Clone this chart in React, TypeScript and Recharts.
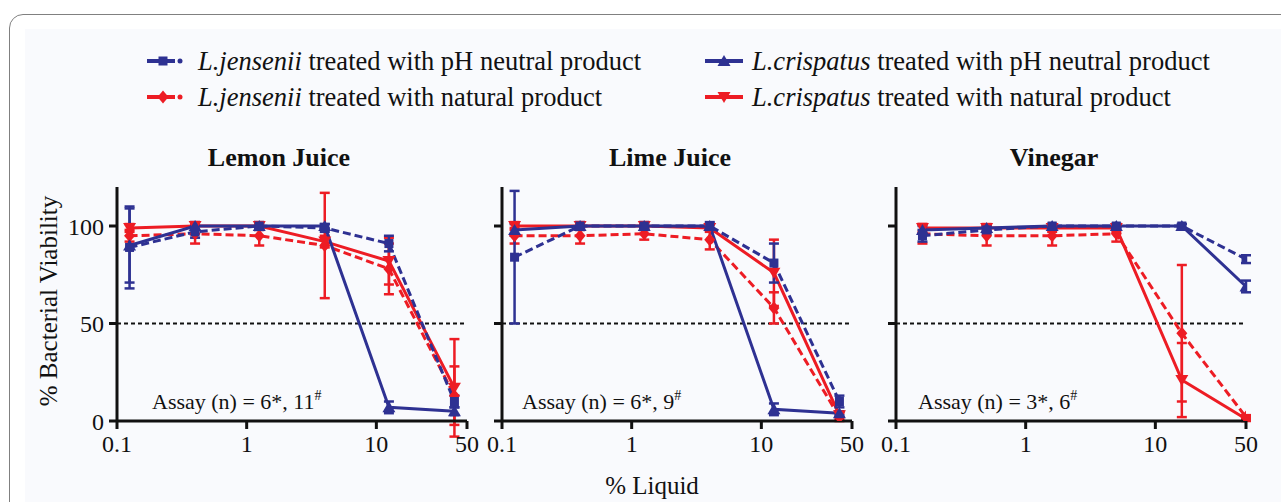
import React from 'react';
import { LineChart, Line, XAxis, YAxis, ErrorBar, ReferenceLine } from 'recharts';

const BLUE = '#2E3192';
const RED = '#ED1C24';
const FONT = '"Liberation Serif", "Times New Roman", serif';

// x concentrations (% liquid)
const xLemon = [0.125, 0.4, 1.25, 4, 12.5, 40];
const xLime = [0.125, 0.4, 1.25, 4, 12.5, 40];
const xVinegar = [0.16, 0.5, 1.6, 5, 16, 50];

const xTicks = [0.1, 1, 10, 50];
const yTicks = [0, 50, 100];

// Lemon juice
const jnLemon = [89, 97, 100, 99, 91, 10];
const jnLemonErr = [21, 3, 2, 2, 4, 3];
const cnLemon = [90, 100, 100, 100, 7, 5];
const cnLemonErr = [19, 2, 1, 1, 3, 2];
const jrLemon = [95, 96, 95, 90, 78, 13];
const jrLemonErr = [3, 5, 5, 27, 13, 15];
const crLemon = [99, 100, 100, 92, 82, 17];
const crLemonErr = [2, 2, 2, 3, 12, 25];

// Lime juice
const jnLime = [84, 100, 100, 100, 81, 10];
const jnLimeErr = [34, 2, 2, 2, 10, 3];
const cnLime = [98, 100, 100, 100, 6, 4];
const cnLimeErr = [3, 1, 1, 1, 3, 1];
const jrLime = [95, 95, 96, 93, 58, 2];
const jrLimeErr = [4, 4, 3, 5, 8, 2];
const crLime = [100, 100, 100, 99, 76, 3];
const crLimeErr = [2, 2, 2, 2, 17, 2];

// Vinegar
const jnVinegar = [95, 98, 100, 100, 100, 83];
const jnVinegarErr = [3, 2, 1, 1, 1, 2];
const cnVinegar = [98, 99, 100, 100, 100, 69];
const cnVinegarErr = [2, 1, 1, 1, 1, 3];
const jrVinegar = [96, 95, 95, 96, 45, 2];
const jrVinegarErr = [5, 5, 5, 4, 35, 1];
const crVinegar = [99, 99, 99, 99, 21, 1];
const crVinegarErr = [2, 2, 2, 2, 19, 1];

const legendLabels = [
  { species: 'L.jensenii', rest: ' treated with pH neutral product' },
  { species: 'L.jensenii', rest: ' treated with natural product' },
  { species: 'L.crispatus', rest: ' treated with pH neutral product' },
  { species: 'L.crispatus', rest: ' treated with natural product' },
];

function Marker({ cx, cy, shape, color }: any) {
  if (cx == null || cy == null || isNaN(cx) || isNaN(cy)) return <g />;
  if (shape === 'square') return <rect x={cx - 4.5} y={cy - 4.5} width={9} height={9} fill={color} />;
  if (shape === 'triangle')
    return <path d={`M${cx},${cy - 6}L${cx + 6.5},${cy + 5}L${cx - 6.5},${cy + 5}Z`} fill={color} />;
  if (shape === 'diamond')
    return <path d={`M${cx},${cy - 6.5}L${cx + 5.5},${cy}L${cx},${cy + 6.5}L${cx - 5.5},${cy}Z`} fill={color} />;
  return <path d={`M${cx - 6.5},${cy - 5}L${cx + 6.5},${cy - 5}L${cx},${cy + 6}Z`} fill={color} />;
}

const SERIES = [
  { key: 'jr', color: RED, dash: '8 4', shape: 'diamond' },
  { key: 'cr', color: RED, dash: undefined, shape: 'invtri' },
  { key: 'jn', color: BLUE, dash: '8 4', shape: 'square' },
  { key: 'cn', color: BLUE, dash: undefined, shape: 'triangle' },
];

function Panel({ left, plotW, xs, vals, showY }: any) {
  const data = xs.map((x: number, i: number) => {
    const row: any = { x };
    for (const k of Object.keys(vals)) row[k] = vals[k][i];
    return row;
  });
  const yW = 75;
  const top = 130;
  return (
    <div style={{ position: 'absolute', left: left - yW, top }}>
      <LineChart
        width={yW + plotW + 25}
        height={331}
        data={data}
        margin={{ top: 57, right: 25, bottom: 0, left: 0 }}
      >
        <XAxis
          dataKey="x"
          type="number"
          scale="log"
          domain={[0.1, 50]}
          ticks={xTicks}
          allowDataOverflow
          height={40}
          axisLine={{ stroke: '#111', strokeWidth: 3 }}
          tickLine={{ stroke: '#111', strokeWidth: 3 }}
          tickSize={8}
          tickMargin={6}
          tick={{ fill: '#111', fontSize: 24, fontFamily: FONT }}
          tickFormatter={(v: number) => String(v)}
          interval={0}
        />
        <YAxis
          type="number"
          domain={[0, 120]}
          allowDataOverflow
          ticks={yTicks}
          width={yW}
          axisLine={{ stroke: '#111', strokeWidth: 3 }}
          tickLine={{ stroke: '#111', strokeWidth: 3 }}
          tickSize={8}
          tickMargin={5}
          tick={showY ? { fill: '#111', fontSize: 24, fontFamily: FONT } : () => <g />}
          interval={0}
        />
        <ReferenceLine y={50} stroke="#111" strokeWidth={2} strokeDasharray="4 3" />
        {SERIES.map((s) => (
          <Line
            key={s.key}
            dataKey={s.key}
            stroke={s.color}
            strokeWidth={3}
            strokeDasharray={s.dash}
            isAnimationActive={false}
            dot={(p: any) => <Marker key={`${s.key}-${p.index}`} cx={p.cx} cy={p.cy} shape={s.shape} color={s.color} />}
            activeDot={false}
          >
            <ErrorBar dataKey={`${s.key}E`} direction="y" width={5} strokeWidth={2.5} stroke={s.color} />
          </Line>
        ))}
      </LineChart>
    </div>
  );
}

function LegendMark({ x, y, shape, color, dashed }: any) {
  return (
    <g>
      {dashed ? (
        <>
          <line x1={x} y1={y} x2={x + 28} y2={y} stroke={color} strokeWidth={4} />
          <circle cx={x + 33} cy={y} r={2.5} fill={color} />
        </>
      ) : (
        <line x1={x} y1={y} x2={x + 38} y2={y} stroke={color} strokeWidth={4} />
      )}
      <Marker cx={x + (dashed ? 16 : 19)} cy={y} shape={shape} color={color} />
    </g>
  );
}

export default function App() {
  const lemon = {
    jn: jnLemon, jnE: jnLemonErr, cn: cnLemon, cnE: cnLemonErr,
    jr: jrLemon, jrE: jrLemonErr, cr: crLemon, crE: crLemonErr,
  };
  const lime = {
    jn: jnLime, jnE: jnLimeErr, cn: cnLime, cnE: cnLimeErr,
    jr: jrLime, jrE: jrLimeErr, cr: crLime, crE: crLimeErr,
  };
  const vinegar = {
    jn: jnVinegar, jnE: jnVinegarErr, cn: cnVinegar, cnE: cnVinegarErr,
    jr: jrVinegar, jrE: jrVinegarErr, cr: crVinegar, crE: crVinegarErr,
  };
  const textStyle: any = { fontFamily: FONT, fill: '#111' };
  return (
    <div style={{ position: 'absolute', left: 0, top: 0, width: 1281, height: 502, overflow: 'hidden', background: '#fff' }}>
      <div
        style={{
          position: 'absolute', left: 9, top: 14, width: 1400, height: 700,
          border: '1.5px solid #808080', borderRadius: 14, boxSizing: 'border-box',
        }}
      />
      <div style={{ position: 'absolute', left: 25, top: 29, width: 1300, height: 600, background: '#f9fafd' }} />
      <Panel left={117} plotW={350} xs={xLemon} vals={lemon} showY />
      <Panel left={502} plotW={350} xs={xLime} vals={lime} showY={false} />
      <Panel left={896} plotW={350} xs={xVinegar} vals={vinegar} showY={false} />
      <svg width={1281} height={502} style={{ position: 'absolute', left: 0, top: 0, pointerEvents: 'none' }}>
        {/* legend */}
        <LegendMark x={147} y={61} shape="square" color={BLUE} dashed />
        <LegendMark x={147} y={97} shape="diamond" color={RED} dashed />
        <LegendMark x={705} y={61} shape="triangle" color={BLUE} />
        <LegendMark x={705} y={97} shape="invtri" color={RED} />
        {[
          { x: 198, y: 70, l: legendLabels[0] },
          { x: 198, y: 106, l: legendLabels[1] },
          { x: 752, y: 70, l: legendLabels[2] },
          { x: 752, y: 106, l: legendLabels[3] },
        ].map((it, i) => (
          <text key={i} x={it.x} y={it.y} fontSize={26.5} style={textStyle}>
            <tspan fontStyle="italic">{it.l.species}</tspan>
            {it.l.rest}
          </text>
        ))}
        {/* titles */}
        <text x={279} y={166} fontSize={26} fontWeight="bold" textAnchor="middle" style={textStyle}>Lemon Juice</text>
        <text x={670} y={166} fontSize={26} fontWeight="bold" textAnchor="middle" style={textStyle}>Lime Juice</text>
        <text x={1054} y={166} fontSize={26} fontWeight="bold" textAnchor="middle" style={textStyle}>Vinegar</text>
        {/* assay notes */}
        <text x={152} y={409} fontSize={22} style={textStyle}>
          Assay (n) = 6*, 11<tspan dy={-9} fontSize={14}>#</tspan>
        </text>
        <text x={522} y={409} fontSize={22} style={textStyle}>
          Assay (n) = 6*, 9<tspan dy={-9} fontSize={14}>#</tspan>
        </text>
        <text x={918} y={409} fontSize={22} style={textStyle}>
          Assay (n) = 3*, 6<tspan dy={-9} fontSize={14}>#</tspan>
        </text>
        {/* axis titles */}
        <text
          x={48}
          y={301}
          fontSize={25}
          textAnchor="middle"
          dominantBaseline="central"
          transform="rotate(-90 48 301)"
          style={textStyle}
        >
          % Bacterial Viability
        </text>
        <text x={652} y={494} fontSize={25} textAnchor="middle" style={textStyle}>% Liquid</text>
      </svg>
    </div>
  );
}
